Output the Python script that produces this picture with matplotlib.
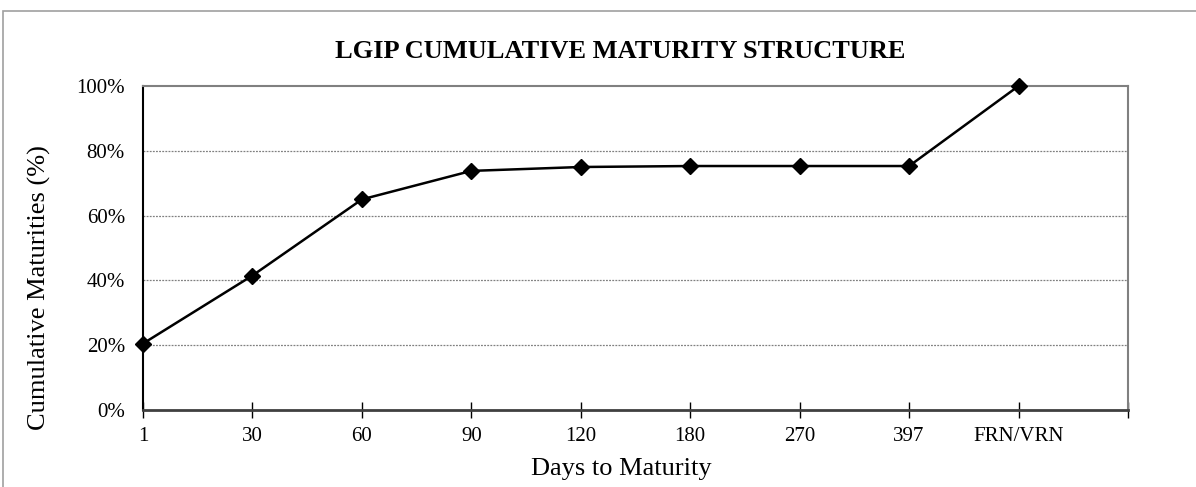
import matplotlib.pyplot as plt
import matplotlib.patches as mpatches

plt.rcParams['font.family'] = ['Liberation Serif', 'DejaVu Serif']

categories = ['1', '30', '60', '90', '120', '180', '270', '397', 'FRN/VRN']
cumulative = [20.5, 41.5, 65.0, 73.8, 75.0, 75.3, 75.3, 75.3, 100.0]

fig = plt.figure(figsize=(11.96, 4.87), dpi=100)
ax = fig.add_axes([143 / 1196, 1 - 410 / 487, (1128 - 143) / 1196, (410 - 86) / 487])

# outer chart border (right/bottom edges fall off the picture)
fig.patches.append(mpatches.Rectangle((3 / 1196, -0.05), 1.1, 1.05 - 11 / 487,
                                      transform=fig.transFigure, fill=False,
                                      edgecolor='#a0a0a0', linewidth=1.2))

x = list(range(len(categories)))
ax.plot(x, cumulative, color='black', linewidth=1.8, marker='D', markersize=8.5,
        markerfacecolor='black', markeredgecolor='black', clip_on=False, zorder=3)

ax.set_xlim(0, len(categories))
ax.set_ylim(0, 100)
ax.set_xticks(range(len(categories) + 1))
ax.set_xticklabels(categories + [''], fontsize=15)
ax.set_yticks([0, 20, 40, 60, 80, 100])
ax.set_yticklabels(['0%', '20%', '40%', '60%', '80%', '100%'], fontsize=15)
ax.tick_params(axis='y', length=0, pad=13)
ax.tick_params(axis='x', direction='inout', length=12, width=1, pad=6)

for y in [20, 40, 60, 80]:
    ax.axhline(y, color='#808080', linewidth=0.9, linestyle=(0, (1.5, 1)), zorder=1)

ax.spines['left'].set_color('black')
ax.spines['left'].set_linewidth(1.5)
ax.spines['bottom'].set_color('#404040')
ax.spines['bottom'].set_linewidth(2)
ax.spines['top'].set_color('#808080')
ax.spines['top'].set_linewidth(1.5)
ax.spines['right'].set_color('#808080')
ax.spines['right'].set_linewidth(1.5)

ax.set_xlabel('Days to Maturity', fontsize=19, labelpad=9)
ax.xaxis.label.set_x(0.486)
ax.set_ylabel('Cumulative Maturities (%)', fontsize=19, labelpad=18)
ax.yaxis.label.set_y(0.377)
fig.text(620 / 1196, 1 - 52 / 487, 'LGIP CUMULATIVE MATURITY STRUCTURE', ha='center', va='center',
         fontsize=19, fontweight='bold')

fig.savefig('out.png', dpi=100)
